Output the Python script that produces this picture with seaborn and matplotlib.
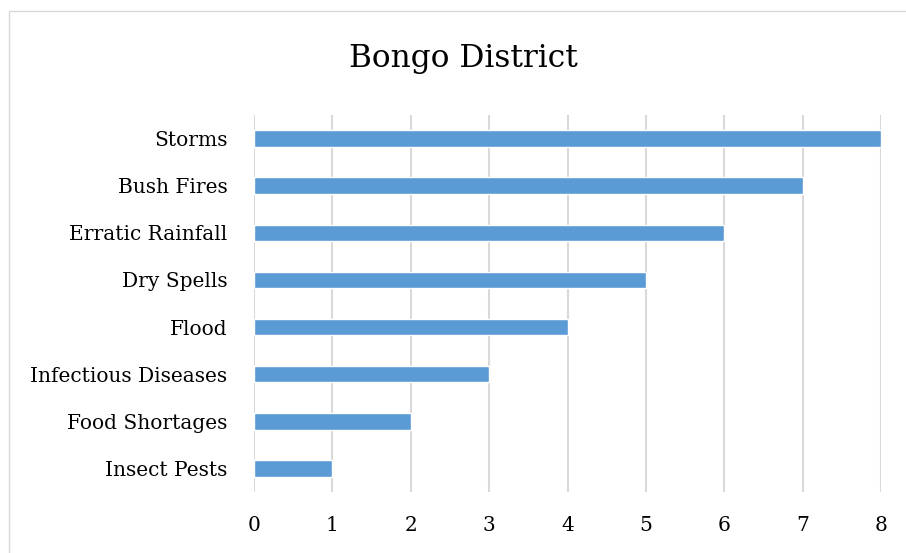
import matplotlib
matplotlib.use("Agg")
import matplotlib.pyplot as plt
import seaborn as sns
import pandas as pd
from matplotlib.patches import Rectangle

hazards = ["Storms", "Bush Fires", "Erratic Rainfall", "Dry Spells", "Flood",
           "Infectious Diseases", "Food Shortages", "Insect Pests"]
counts = [8, 7, 6, 5, 4, 3, 2, 1]
x_ticks = [0, 1, 2, 3, 4, 5, 6, 7, 8]

df = pd.DataFrame({"hazard": hazards, "count": counts})

sns.set_theme(style="white")
plt.rcParams["font.family"] = ["DejaVu Serif"]

fig = plt.figure(figsize=(9.06, 5.53), dpi=100)
ax = fig.add_axes([254 / 906, 61 / 553, 627 / 906, 377 / 553])

sns.barplot(data=df, x="count", y="hazard", order=hazards, orient="h",
            color="#5B9BD5", saturation=1, width=0.35, ax=ax, zorder=3)

ax.set_xlim(0, 8)
ax.set_ylim(len(hazards) - 0.5, -0.5)
ax.set_xticks(x_ticks)
ax.set_xticklabels([str(t) for t in x_ticks])
ax.grid(axis="x", color="#D9D9D9", linewidth=1.5, zorder=0)
ax.grid(axis="y", visible=False)
for s in ax.spines.values():
    s.set_visible(False)
ax.set_xlabel("")
ax.set_ylabel("")
ax.tick_params(axis="y", length=0, pad=19, labelsize=14.5, labelcolor="#000000")
ax.tick_params(axis="x", length=0, pad=17, labelsize=14.5, labelcolor="#000000")

fig.text(463 / 906, 1 - 58 / 553, "Bongo District", ha="center", va="center",
         fontsize=22.5, color="#000000")

# chart frame
fig.patches.append(Rectangle((9 / 906, -0.1), 1.2, 1 - 11 / 553 + 0.1,
                             transform=fig.transFigure, fill=False,
                             edgecolor="#D9D9D9", linewidth=1.0))

fig.savefig("out.png", dpi=100)
